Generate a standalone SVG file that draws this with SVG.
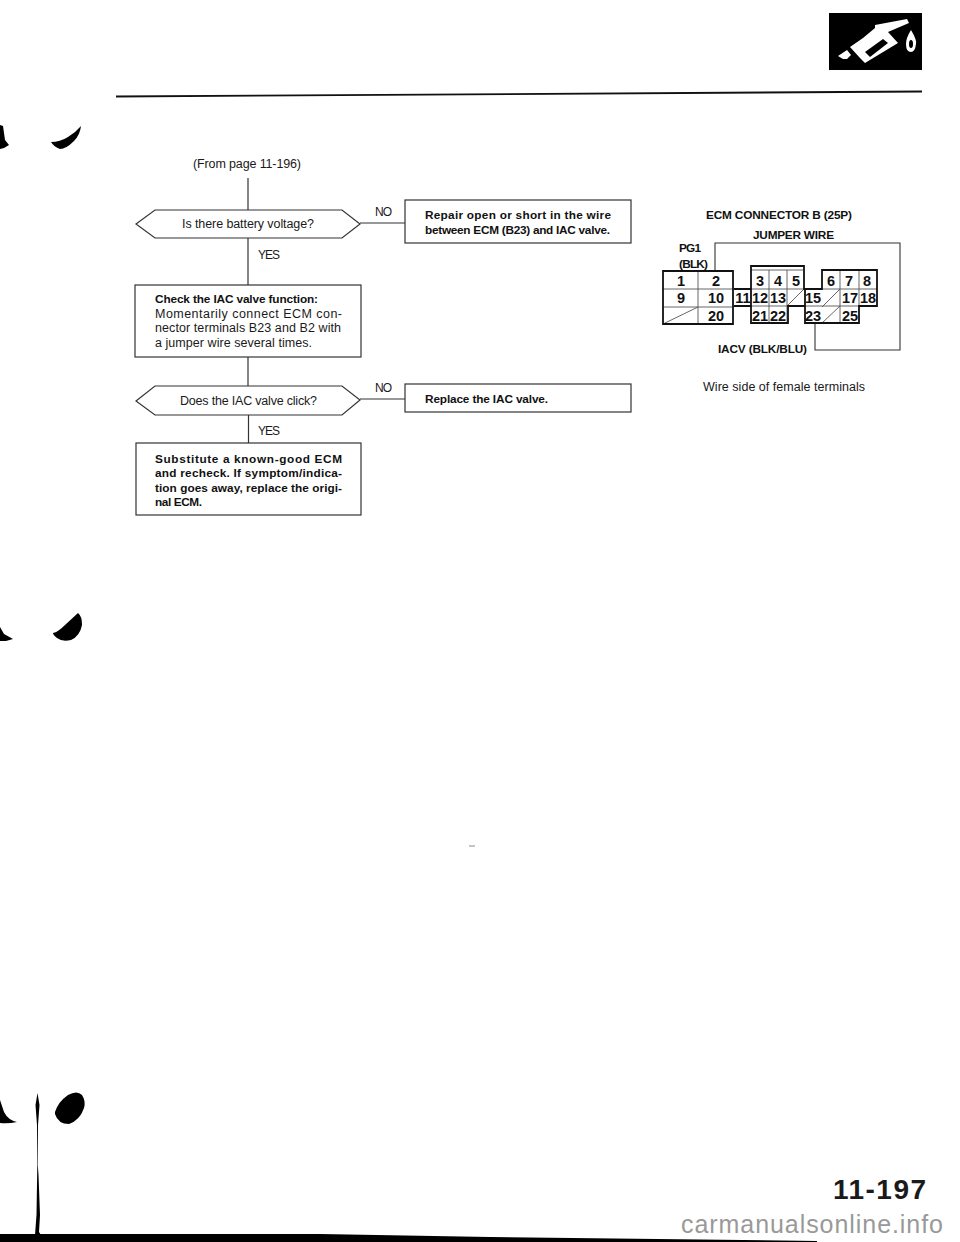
<svg xmlns="http://www.w3.org/2000/svg" width="960" height="1242" viewBox="0 0 960 1242">
<style>
text{font-family:"Liberation Sans",Arial,sans-serif;fill:#1a1a1a}
.r{font-size:12.5px}
.b{font-size:11.8px;font-weight:bold;fill:#111}
.l{font-size:12px}
.n{font-size:14.5px;font-weight:bold;text-anchor:middle;fill:#111}
.s{fill:#fff;stroke:#333;stroke-width:1.2}
.c{fill:none;stroke:#333;stroke-width:1.2}
.o{fill:none;stroke:#111;stroke-width:1.8}
.t{fill:none;stroke:#555;stroke-width:.9}
.j{fill:none;stroke:#333;stroke-width:1.1}
.k{fill:#000}
</style>
<rect width="960" height="1242" fill="#fff"/>

<g id="page-marks">
<path class="k" d="M0 125L3 126L5 140L9 145L4 148L0 149Z"/>
<path class="k" d="M81 126Q80 135 74 141Q66 149 60 149Q54 147 51 142Q60 142 68 137Q76 132 81 126Z"/>
<path class="k" d="M0 627L4 634L13 639L6 641L0 641Z"/>
<path class="k" d="M78 613Q82 616 82 625Q80 636 71 640Q62 642 57 638Q53 635 53 633Q58 632 65 625Z"/>
<path class="k" d="M0 1100L4 1112Q8 1120 17 1122Q8 1124 0 1123Z"/>
<path class="k" d="M55 1112Q58 1102 68 1095Q77 1090 82 1095Q86 1101 84 1108Q80 1120 69 1124Q58 1124 55 1114Z"/>
<path class="k" d="M37.500 1093L39.500 1105L38 1125L37.800 1165L38.500 1175L40 1215L39 1232L41 1235L35 1235L36.500 1215L37.300 1165L37 1125L35.500 1105Z"/>
<path class="k" d="M0 1234L320 1234L490 1237L817 1241L817 1242L0 1242Z"/>
<path d="M116 96.500L922 91.500" stroke="#111" stroke-width="1.800" fill="none"/>
<path d="M469 846H475" stroke="#888" stroke-width="1" fill="none"/>
</g>

<g id="fuel-icon">
<rect class="k" x="829" y="13" width="93" height="57"/>
<path fill="#fff" d="M838 56L847 50L851 55L847 59L843 59Z"/>
<path fill="#fff" d="M875 25L907 19L909 23L888 32L898 43L865 63L860 58L850 47L863 38L875 28Z"/>
<path class="k" d="M865 52L883 39L888 43L870 57Z"/>
<path fill="#fff" d="M911 30Q917 40 916 44Q915 52 911 52Q906 52 906 44Q906 38 911 30Z"/>
<ellipse class="k" cx="911" cy="44" rx="2" ry="4"/>
</g>

<g id="connectors">
<path class="c" d="M248 178V210"/>
<path class="c" d="M248 238V285"/>
<path class="c" d="M248 357V386"/>
<path class="c" d="M248.500 415V443"/>
<path class="c" d="M360 223H405"/>
<path class="c" d="M360 399H405"/>
</g>

<text id="from-label" class="r" x="193" y="168" textLength="108">(From page 11-196)</text>

<g id="q1">
<path class="s" d="M136 224L155 210H342L360 224L342 238H155Z"/>
<text class="r" x="182" y="228" textLength="132">Is there battery voltage?</text>
</g>
<text id="yes1" class="l" x="258" y="259" textLength="22">YES</text>
<text id="no1" class="l" x="375" y="216" textLength="17">NO</text>

<g id="repair">
<rect class="s" x="405" y="200" width="226" height="43"/>
<text class="b" x="425" y="219" textLength="186">Repair open or short in the wire</text>
<text class="b" x="425" y="234" textLength="185">between ECM (B23) and IAC valve.</text>
</g>

<g id="check">
<rect class="s" x="135" y="285" width="226" height="72"/>
<text class="b" x="155" y="303" textLength="163">Check the IAC valve function:</text>
<text class="r" x="155" y="318" textLength="187">Momentarily connect ECM con-</text>
<text class="r" x="155" y="332" textLength="186">nector terminals B23 and B2 with</text>
<text class="r" x="155" y="347" textLength="157">a jumper wire several times.</text>
</g>

<g id="q2">
<path class="s" d="M136 401L155 386H342L360 400L342 415H155Z"/>
<text class="r" x="180" y="405" textLength="137">Does the IAC valve click?</text>
</g>
<text id="yes2" class="l" x="258" y="435" textLength="22">YES</text>
<text id="no2" class="l" x="375" y="392" textLength="17">NO</text>

<g id="replace">
<rect class="s" x="405" y="384" width="226" height="28"/>
<text class="b" x="425" y="403" textLength="123">Replace the IAC valve.</text>
</g>

<g id="substitute">
<rect class="s" x="136" y="443" width="225" height="72"/>
<text class="b" x="155" y="463" textLength="187">Substitute a known-good ECM</text>
<text class="b" x="155" y="477" textLength="187">and recheck. If symptom/indica-</text>
<text class="b" x="155" y="492" textLength="187">tion goes away, replace the origi-</text>
<text class="b" x="155" y="506" textLength="47">nal ECM.</text>
</g>

<g id="ecm-connector">
<text class="b" x="706" y="219" textLength="146">ECM CONNECTOR B (25P)</text>
<text class="b" x="753" y="239" textLength="81">JUMPER WIRE</text>
<text class="b" x="679" y="252" textLength="22">PG1</text>
<text class="b" x="679" y="268" textLength="29">(BLK)</text>
<text class="b" x="718" y="353" textLength="89">IACV (BLK/BLU)</text>
<text class="r" x="703" y="391" textLength="162">Wire side of female terminals</text>
<path class="j" d="M715 271V243H900V350H815V323"/>
<path class="t" d="M663 289H733M663 307H733M698 271V324M663 324L698 307"/>
<path class="t" d="M751 270H804M751 289H804M751 306H788M769 270V323M787 270V323M787 306L804 289"/>
<path class="t" d="M805 306H822M840 289V323M859 270V306M822 289H877M822 306H859M840 270V289M822 307L840 289M822 323L840 306"/>
<path class="o" d="M663 271H733V324H663Z"/>
<path class="o" d="M734 289H751M734 306H751"/>
<path class="o" d="M751 323V266H804V289H822V270H877V306H859V323H805V306H788V323ZM788 306H805V289"/>
<g>
<text class="n" x="681" y="286">1</text><text class="n" x="716" y="286">2</text><text class="n" x="760" y="286">3</text><text class="n" x="778" y="286">4</text><text class="n" x="796" y="286">5</text><text class="n" x="831" y="286">6</text><text class="n" x="849" y="286">7</text><text class="n" x="867" y="286">8</text>
<text class="n" x="681" y="303">9</text><text class="n" x="716" y="303">10</text><text class="n" x="743" y="303">11</text><text class="n" x="760" y="303">12</text><text class="n" x="778" y="303">13</text><text class="n" x="813" y="303">15</text><text class="n" x="850" y="303">17</text><text class="n" x="868" y="303">18</text>
<text class="n" x="716" y="321">20</text><text class="n" x="760" y="321">21</text><text class="n" x="778" y="321">22</text><text class="n" x="813" y="321">23</text><text class="n" x="850" y="321">25</text>
</g>
</g>

<g id="footer">
<text x="833" y="1199" font-size="28" font-weight="bold" fill="#111" textLength="93">11-197</text>
<text x="681" y="1233" font-size="25" style="fill:#999" textLength="262">carmanualsonline.info</text>
</g>
</svg>
